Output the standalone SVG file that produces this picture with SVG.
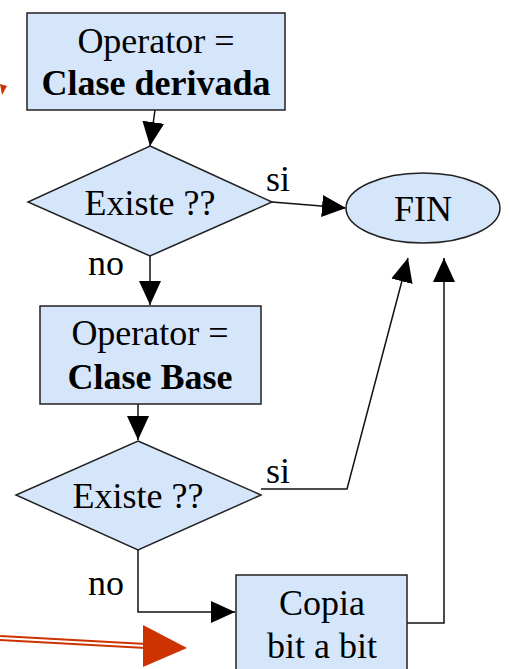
<svg xmlns="http://www.w3.org/2000/svg" width="509" height="669" viewBox="0 0 509 669">
  <style>
    .shape { fill: #d5e6fa; stroke: #222; stroke-width: 1.5; }
    .t { font-family: "Liberation Serif", "Times New Roman", serif; font-size: 36px; fill: #000; text-anchor: middle; }
    .b { font-weight: bold; }
    .lbl { font-family: "Liberation Serif", "Times New Roman", serif; font-size: 36px; fill: #000; }
    .conn { fill: none; stroke: #111; stroke-width: 1.5; }
  </style>
  <defs>
    <marker id="ah" markerWidth="24" markerHeight="22" refX="24" refY="11" orient="auto" markerUnits="userSpaceOnUse">
      <path d="M0,0 L24,11 L0,22 z" fill="#000"/>
    </marker>
  </defs>
  <rect width="509" height="669" fill="#fff"/>

  <!-- connectors -->
  <g id="connectors">
    <path class="conn" d="M155,110 L150,146" marker-end="url(#ah)"/>
    <path class="conn" d="M272,202 L346,208" marker-end="url(#ah)"/>
    <path class="conn" d="M150,256 L150,305" marker-end="url(#ah)"/>
    <path class="conn" d="M138,404 L138,440" marker-end="url(#ah)"/>
    <path class="conn" d="M261,489 L347,489 L408,258" marker-end="url(#ah)"/>
    <path class="conn" d="M138,550 L138,612 L235,612" marker-end="url(#ah)"/>
    <path class="conn" d="M407,623 L444,623 L444,258" marker-end="url(#ah)"/>
    <text class="lbl" x="266" y="191">si</text>
    <text class="lbl" x="88" y="275">no</text>
    <text class="lbl" x="266" y="483">si</text>
    <text class="lbl" x="88" y="595">no</text>
  </g>

  <g id="op-derivada">
    <rect class="shape" x="27" y="13" width="258" height="97"/>
    <text class="t" x="156" y="53">Operator =</text>
    <text class="t b" x="156" y="95">Clase derivada</text>
  </g>

  <g id="existe-1">
    <polygon class="shape" points="150,146 272,202 150,256 28,202"/>
    <text class="t" x="150" y="215">Existe ??</text>
  </g>

  <g id="fin">
    <ellipse class="shape" cx="423" cy="208" rx="77" ry="35"/>
    <text class="t" x="423" y="221">FIN</text>
  </g>

  <g id="op-base">
    <rect class="shape" x="40" y="306" width="221" height="98"/>
    <text class="t" x="150" y="345">Operator =</text>
    <text class="t b" x="150" y="389">Clase Base</text>
  </g>

  <g id="existe-2">
    <polygon class="shape" points="138,441 261,495 138,550 16,495"/>
    <text class="t" x="138" y="508">Existe ??</text>
  </g>

  <g id="copia">
    <rect class="shape" x="236" y="575" width="171" height="100"/>
    <text class="t" x="322" y="615">Copia</text>
    <text class="t" x="322" y="658">bit a bit</text>
  </g>

  <!-- red pointer arrows -->
  <g id="pointers">
    <polygon points="0,84 7,86 2,95" fill="#cc3300"/>
    <line x1="0" y1="638" x2="146" y2="646" stroke="#cc3300" stroke-width="6"/>
    <line x1="0" y1="638" x2="146" y2="646" stroke="#fff" stroke-width="2"/>
    <polygon points="143,625 187,648 143,667" fill="#cc3300"/>
  </g>
</svg>
